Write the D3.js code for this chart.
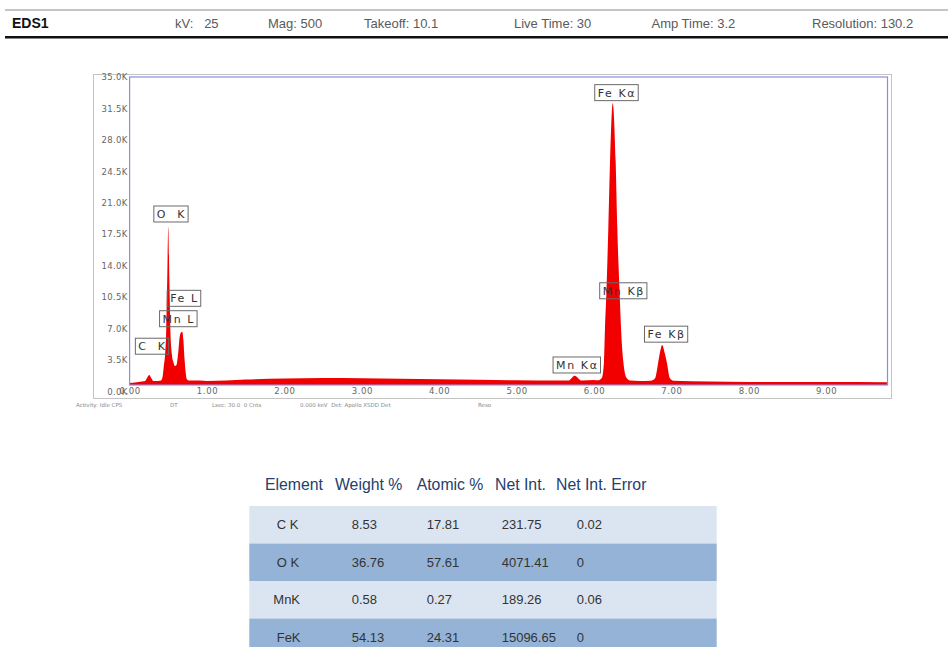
<!DOCTYPE html>
<html>
<head>
<meta charset="utf-8">
<script src="https://cdn.jsdelivr.net/npm/d3@7"></script>
<style>
  html, body { margin: 0; padding: 0; background: #fff; }
  svg { display: block; }
  text { white-space: pre; }
</style>
</head>
<body>
<svg id="chart" width="948" height="647"></svg>
<script>
// ---------- DATA ----------
const headerTitle = "EDS1";
const headerItems = ["kV:   25", "Mag: 500", "Takeoff: 10.1", "Live Time: 30", "Amp Time: 3.2", "Resolution: 130.2"];

// spectrum outline: energy (keV) and counts
const energyKeV = [0.00,0.07,0.16,0.20,0.225,0.255,0.28,0.306,0.367,0.405,0.428,0.442,0.457,0.473,0.486,0.500,0.514,0.527,0.544,0.565,0.587,0.606,0.629,0.645,0.664,0.681,0.695,0.709,0.724,0.738,0.767,0.91,1.00,1.50,2.00,2.50,3.00,3.50,4.00,4.50,5.00,5.50,5.67,5.75,5.84,6.00,6.052,6.100,6.129,6.142,6.159,6.185,6.207,6.242,6.280,6.301,6.332,6.349,6.379,6.422,6.465,6.594,6.723,6.746,6.789,6.831,6.853,6.882,6.910,6.939,6.981,7.025,7.50,8.00,9.00,9.79];
const counts    = [950,1000,1110,1170,1500,1840,1500,1170,1170,1220,1730,2840,3950,6850,12400,18340,12400,6850,4290,3280,2840,2950,4400,5950,6570,6660,5730,3730,2170,1390,1220,1220,1170,1335,1450,1500,1470,1410,1360,1300,1250,1220,1220,1760,1220,1280,1245,1500,3320,7070,10740,18200,25580,32080,25580,18200,10740,7070,3320,1500,1220,1170,1190,1220,1470,3320,4400,5180,4400,3320,1470,1190,1110,1060,1060,1020];

const yTickValues = [0,3500,7000,10500,14000,17500,21000,24500,28000,31500,35000];
const yTickLabels = ["0.0K","3.5K","7.0K","10.5K","14.0K","17.5K","21.0K","24.5K","28.0K","31.5K","35.0K"];
const xTickValues = [0,1,2,3,4,5,6,7,8,9];
const xTickLabels = ["0.00","1.00","2.00","3.00","4.00","5.00","6.00","7.00","8.00","9.00"];

// peak labels, anchored in data units (keV, counts)
const peakNames  = ["O  K","Fe L","Mn L","C  K","Fe Kα","Mn Kβ","Fe Kβ","Mn Kα"];
const peakKeV    = [0.541,0.709,0.636,0.296,6.297,6.385,6.938,5.784];
const peakCounts = [19755,10370,8100,5040,33260,11210,6380,2950];

const statusTexts = ["Activity: Idle CPS","DT","Lsec: 30.0  0 Cnts","0.000 keV  Det: Apollo XSDD Det","Reso"];

const tableHeaders = ["Element","Weight %","Atomic %","Net Int.","Net Int. Error"];
const elements   = ["C K","O K","MnK","FeK"];
const weightPct  = ["8.53","36.76","0.58","54.13"];
const atomicPct  = ["17.81","57.61","0.27","24.31"];
const netInt     = ["231.75","4071.41","189.26","15096.65"];
const netIntErr  = ["0.02","0","0.06","0"];

// ---------- LAYOUT ----------
const svg = d3.select("#chart");
const W = 948, H = 647;

// header
svg.append("line").attr("x1",5).attr("x2",W).attr("y1",10).attr("y2",10)
  .attr("stroke","#8a8a8a").attr("stroke-width",1);
svg.append("line").attr("x1",5).attr("x2",W).attr("y1",37.3).attr("y2",37.3)
  .attr("stroke","#111").attr("stroke-width",2.5);
svg.append("text").attr("x",12).attr("y",27.5).text(headerTitle)
  .attr("font-family","Liberation Sans, Arial, sans-serif").attr("font-weight","bold")
  .attr("font-size",14).attr("fill","#111");
const headerX = [175,268,364,514,651.5,812];
svg.selectAll("text.hdr").data(headerItems).enter().append("text")
  .attr("class","hdr").attr("x",(d,i)=>headerX[i]).attr("y",27.5)
  .attr("font-family","Liberation Sans, Arial, sans-serif").attr("font-size",13)
  .attr("fill","#5a5a5a").text(d=>d);

// chart frame
const plotL = 129.6, plotR = 887.5, plotT = 77, plotB = 385;
const x = d3.scaleLinear().domain([0, (plotR-plotL)/77.4]).range([plotL, plotR]);
const y = d3.scaleLinear().domain([0, 35000]).range([391.5, 77]);

svg.append("rect").attr("x",93.5).attr("y",74.5).attr("width",798).attr("height",324)
  .attr("fill","#fff").attr("stroke","#c4c4c4").attr("stroke-width",1);

svg.append("clipPath").attr("id","plotclip").append("rect")
  .attr("x",plotL).attr("y",plotT).attr("width",plotR-plotL).attr("height",plotB-plotT);

const pts = energyKeV.map((e,i)=>[e, counts[i]]);
const area = d3.area().x(d=>x(d[0])).y0(y(0)).y1(d=>y(d[1])).curve(d3.curveMonotoneX);
svg.append("path").datum(pts).attr("d",area).attr("fill","#f20000")
  .attr("clip-path","url(#plotclip)");

svg.append("rect").attr("x",plotL).attr("y",plotT).attr("width",plotR-plotL).attr("height",plotB-plotT)
  .attr("fill","none").attr("stroke","#8c8ce2").attr("stroke-width",1.2);

// axes
const yAxis = svg.append("g").attr("transform",`translate(${plotL},0)`)
  .call(d3.axisLeft(y).tickValues(yTickValues).tickFormat((d,i)=>yTickLabels[i]).tickSize(0).tickPadding(2));
yAxis.select(".domain").remove();
yAxis.selectAll("text").attr("font-family","DejaVu Sans, Verdana, sans-serif").attr("font-size",8.5)
  .attr("fill","#666").attr("letter-spacing",0.3);

const xAxis = svg.append("g").attr("transform","translate(0,391.5)")
  .call(d3.axisBottom(x).tickValues(xTickValues).tickFormat((d,i)=>xTickLabels[i]).tickSize(0));
xAxis.select(".domain").remove();
xAxis.selectAll("text").attr("y",0).attr("dy","0.35em")
  .attr("font-family","DejaVu Sans, Verdana, sans-serif").attr("font-size",8.5)
  .attr("fill","#666").attr("letter-spacing",0.6);

// peak labels
const lbl = svg.append("g");
peakNames.forEach((name,i)=>{
  const g = lbl.append("g");
  const t = g.append("text").attr("x",x(peakKeV[i])).attr("y",y(peakCounts[i]))
    .attr("text-anchor","middle").attr("dy","0.36em")
    .attr("font-family","DejaVu Sans, Verdana, sans-serif").attr("font-size",11)
    .attr("letter-spacing",1.6).attr("fill","#333").text(name);
  const bb = t.node().getBBox();
  g.insert("rect","text").attr("x",bb.x-3).attr("y",y(peakCounts[i])-8)
    .attr("width",bb.width+5).attr("height",16)
    .attr("fill","none").attr("stroke","#6a6a6a").attr("stroke-width",1);
});

// status line
const statusX = [76,170,212,300,478];
svg.selectAll("text.st").data(statusTexts).enter().append("text")
  .attr("class","st").attr("x",(d,i)=>statusX[i]).attr("y",407)
  .attr("font-family","DejaVu Sans, sans-serif").attr("font-size",5.5)
  .attr("fill","#8a8a8a").text(d=>d);

// table
const tblL = 249.3, tblR = 716.7, rowTop = 506, rowH = 37.5;
const headX = [265,335,416.7,495,556];
svg.selectAll("text.th").data(tableHeaders).enter().append("text")
  .attr("class","th").attr("x",(d,i)=>headX[i]).attr("y",484).attr("dy","0.36em")
  .attr("font-family","Liberation Sans, Arial, sans-serif").attr("font-size",15.8)
  .attr("fill","#24406c").text(d=>d);

const rowColors = ["#dbe5f1","#95b3d7","#dbe5f1","#95b3d7"];
const colX = [276.7,351.7,426.7,501.7,576.7];
const rows = elements.map((e,i)=>[e, weightPct[i], atomicPct[i], netInt[i], netIntErr[i]]);
rows.forEach((r,i)=>{
  svg.append("rect").attr("x",tblL).attr("y",rowTop+i*rowH).attr("width",tblR-tblL)
    .attr("height",i===rows.length-1?rowH+10:rowH).attr("fill",rowColors[i]);
  r.forEach((c,j)=>{
    svg.append("text").attr("x",colX[j]-(j===0 && c.startsWith("Mn")?3.4:0))
      .attr("y",rowTop+i*rowH+rowH/2).attr("dy","0.36em")
      .attr("font-family","Liberation Sans, Arial, sans-serif").attr("font-size",13)
      .attr("fill","#333").text(c);
  });
});
</script>
</body>
</html>
